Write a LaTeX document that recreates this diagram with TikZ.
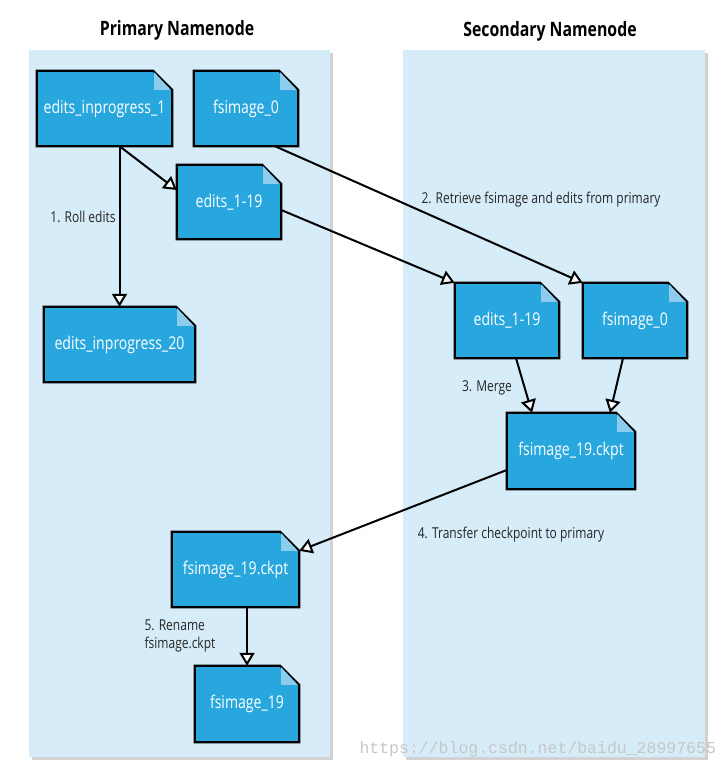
\documentclass[tikz,border=0pt]{standalone}
\usepackage{fontspec}
\setmainfont{Open Sans}[FakeStretch=0.8]
\setmonofont{Liberation Mono}
\usepackage{tikz}
\usetikzlibrary{arrows.meta,positioning,calc,shadows}
\definecolor{panelblue}{RGB}{214,236,248}
\definecolor{docblue}{RGB}{39,167,222}
\definecolor{foldblue}{RGB}{140,205,238}
\pgfdeclarelayer{background}
\pgfdeclarelayer{docs}
\pgfsetlayers{background,docs,main}

\begin{document}
\begin{tikzpicture}[x=1pt,y=-1pt,
    doc/.style={text=white,font=\fontsize{17.6}{20}\selectfont,inner sep=0pt,minimum height=75pt},
    flow/.style={line width=2pt,-{Triangle[length=13pt,width=15pt,fill=white]}},
    steplabel/.style={font=\fontsize{15}{18}\selectfont,text=black!85},
    panel/.style={fill=panelblue,drop shadow={shadow xshift=3pt,shadow yshift=-3pt,opacity=0.35}}]
    \useasboundingbox (0,0) rectangle (727,770);

    % Panels
    \begin{pgfonlayer}{background}
    \fill[white] (0,0) rectangle (727,770);
    \path[panel] (29,50) rectangle (330,757);
    \path[panel] (403,50) rectangle (705,757);
    \end{pgfonlayer}

    % Titles
    \node[font=\fontsize{19.8}{22}\selectfont\bfseries] (ptitle) at (177,30) {Primary Namenode};
    \node[font=\fontsize{19.8}{22}\selectfont\bfseries] (stitle) at (550,31) {Secondary Namenode};

    % Primary files
    \node[doc,minimum width=135pt] (pe1) at (104.5,108.5) {edits\_inprogress\_1};
    \node[doc,minimum width=104pt] (pf0) at (246,108.5) {fsimage\_0};
    \node[doc,minimum width=104pt,minimum height=74pt] (pe19) at (229,202) {edits\_1-19};
    \node[doc,minimum width=151pt] (pe20) at (119.5,344.5) {edits\_inprogress\_20};
    \node[doc,minimum width=127pt] (pckpt) at (235.5,569.5) {fsimage\_19.ckpt};
    \node[doc,minimum width=104pt,minimum height=76pt] (pf19) at (247,704) {fsimage\_19};

    % Secondary files
    \node[doc,minimum width=104pt] (se19) at (507,320.5) {edits\_1-19};
    \node[doc,minimum width=104pt] (sf0) at (635,320.5) {fsimage\_0};
    \node[doc,minimum width=128pt,minimum height=76pt] (sckpt) at (571,451) {fsimage\_19.ckpt};

    % Document shapes with folded corner
    \begin{pgfonlayer}{docs}
    \foreach \n in {pe1,pf0,pe19,pe20,pckpt,pf19,se19,sf0,sckpt}{
        \draw[line width=2.2pt,fill=docblue] (\n.north west) -- ([xshift=-19pt]\n.north east)
            -- ([yshift=-19pt]\n.north east) -- (\n.south east) -- (\n.south west) -- cycle;
        \fill[foldblue] ([xshift=-18pt,yshift=-1.5pt]\n.north east) -- ([xshift=-18pt,yshift=-19pt]\n.north east)
            -- ([xshift=-1.5pt,yshift=-19pt]\n.north east) -- cycle;
    }
    \end{pgfonlayer}

    % Step 1
    \coordinate (roll) at (pe20.north |- pe1.south);
    \draw[flow] (roll) -- ([yshift=12pt]pe19.west);
    \draw[flow] (roll) -- (pe20.north);
    \node[steplabel] (l1) at (83,217) {1. Roll edits};

    % Step 2
    \draw[flow] ([xshift=29pt]pf0.south) -- (sf0.north west);
    \draw[flow] ([yshift=-8pt]pe19.east) -- (se19.north west);
    \node[steplabel] (l2) at (541,200) {2. Retrieve fsimage and edits from primary};

    % Step 3
    \draw[flow] ([xshift=9pt]se19.south) -- ([xshift=-39pt]sckpt.north);
    \draw[flow] ([xshift=-12pt]sf0.south) -- ([xshift=39pt]sckpt.north);
    \node[steplabel] (l3) at (487,388) {3. Merge};

    % Step 4
    \draw[flow] ([yshift=-19pt]sckpt.west) -- ([yshift=-19pt]pckpt.north east);
    \node[steplabel] (l4) at (511,535) {4. Transfer checkpoint to primary};

    % Step 5
    \draw[flow] (pf19.north |- pckpt.south) -- (pf19.north);
    \node[steplabel,align=left,font=\fontsize{15}{18}\selectfont] (l5) at (180,636) {5. Rename\\fsimage.ckpt};

    % Watermark
    \node[anchor=west,text=black!22,font=\ttfamily\fontsize{16.5}{18}\selectfont] (mark) at (356,749) {https://blog.csdn.net/baidu\_28997655};
\end{tikzpicture}
\end{document}
